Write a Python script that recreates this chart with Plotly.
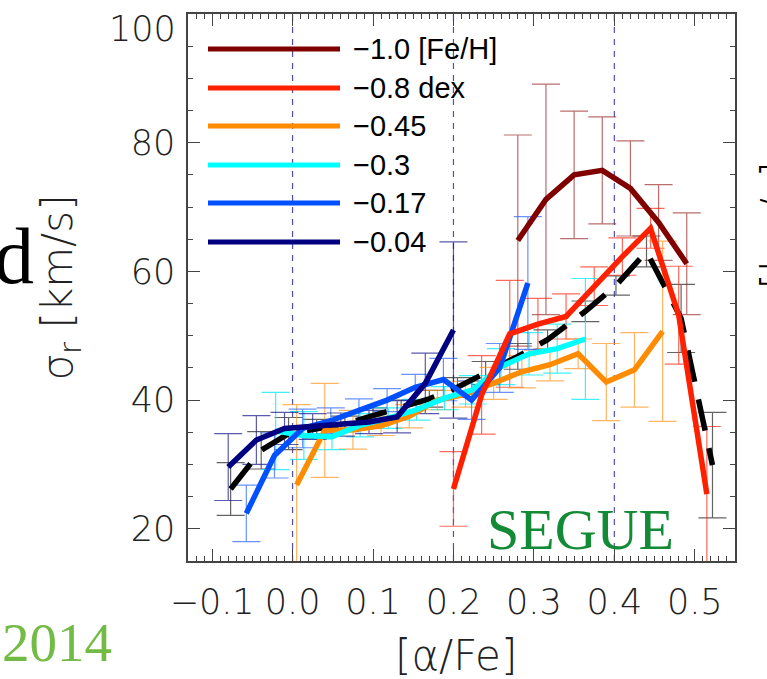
import plotly.graph_objects as go

# Radial velocity dispersion of disc stars vs [alpha/Fe], one curve per [Fe/H] bin
feh_labels = ["−1.0 [Fe/H]", "−0.8 dex", "−0.45", "−0.3", "−0.17", "−0.04"]
feh_colors = ["#800000", "#ff2000", "#ff8c00", "#00ffff", "#0050ff", "#000080"]
feh_err_colors = ["rgba(150,30,30,0.65)", "rgba(255,40,20,0.7)", "rgba(255,150,30,0.7)",
                  "rgba(0,235,245,0.75)", "rgba(40,100,255,0.7)", "rgba(20,20,140,0.7)"]

# [Fe/H] = -1.0
afe_m100 = [0.28, 0.315, 0.35, 0.385, 0.42, 0.455, 0.49]
sig_m100 = [64.8, 71.2, 75.0, 75.7, 72.9, 67.6, 61.2]
err_m100 = [16.4, 17.9, 9.9, 8.3, 7.4, 5.9, 7.9]

# [Fe/H] = -0.8
afe_m080 = [0.2, 0.235, 0.27, 0.305, 0.34, 0.375, 0.41, 0.445, 0.48, 0.515]
sig_m080 = [26.2, 40.8, 50.3, 51.8, 53.0, 57.7, 62.3, 66.7, 53.2, 25.4]
err_m080 = [5.8, 6.1, 8.3, 4.0, 3.5, 3.0, 2.9, 3.1, 7.6, 10.5]

# [Fe/H] = -0.45
afe_m045 = [0.005, 0.04, 0.075, 0.11, 0.145, 0.18, 0.215, 0.25, 0.285, 0.32, 0.355, 0.39, 0.425, 0.46]
sig_m045 = [26.8, 35.3, 35.4, 36.0, 37.5, 40.0, 40.9, 42.6, 44.4, 45.5, 47.2, 42.8, 44.7, 50.7]
err_m045 = [12.5, 7.3, 3.0, 1.5, 1.8, 1.5, 2.0, 2.5, 2.5, 2.5, 2.3, 6.0, 5.8, 14.0]

# [Fe/H] = -0.3
afe_m030 = [-0.021, 0.014, 0.049, 0.084, 0.119, 0.154, 0.189, 0.224, 0.259, 0.294, 0.329, 0.364]
sig_m030 = [35.2, 34.5, 34.3, 36.1, 37.2, 38.5, 40.3, 41.6, 45.2, 47.2, 48.0, 49.5]
err_m030 = [6.0, 3.7, 2.0, 1.8, 1.6, 1.6, 1.8, 2.2, 2.8, 3.3, 3.8, 9.4]

# [Fe/H] = -0.17
afe_m017 = [-0.0575, -0.0225, 0.0125, 0.0475, 0.0825, 0.1175, 0.1525, 0.1875, 0.2225, 0.2575, 0.2925]
sig_m017 = [22.4, 31.4, 35.6, 36.8, 38.4, 40.0, 42.0, 43.2, 40.0, 45.0, 58.2]
err_m017 = [4.4, 3.5, 3.0, 2.0, 1.8, 1.8, 2.0, 3.3, 3.0, 3.8, 10.3]

# [Fe/H] = -0.04
afe_m004 = [-0.08, -0.045, -0.01, 0.025, 0.06, 0.095, 0.13, 0.165, 0.2]
sig_m004 = [29.6, 33.8, 35.6, 35.9, 36.2, 36.6, 37.4, 42.6, 50.9]
err_m004 = [5.2, 3.8, 2.5, 2.0, 1.8, 1.8, 2.5, 4.7, 13.7]

# All metallicities together (dashed)
afe_all = [-0.077, -0.039, -0.005, 0.03, 0.065, 0.10, 0.135, 0.17, 0.205, 0.24, 0.28,
           0.317, 0.364, 0.402, 0.44, 0.483, 0.522]
sig_all = [26.2, 32.2, 34.8, 35.5, 36.3, 37.6, 38.8, 40.2, 42.0, 44.2, 46.8,
           49.4, 53.8, 57.8, 63.1, 52.7, 29.9]
err_all = [4.1, 2.9, 2.5, 1.5, 1.2, 1.2, 1.2, 1.3, 1.5, 1.8, 2.0,
           1.5, 1.6, 1.5, 2.4, 5.3, 8.2]

series_x = [afe_m100, afe_m080, afe_m045, afe_m030, afe_m017, afe_m004]
series_y = [sig_m100, sig_m080, sig_m045, sig_m030, sig_m017, sig_m004]
series_e = [err_m100, err_m080, err_m045, err_m030, err_m017, err_m004]

ref_lines = [0.0, 0.2, 0.4]
x_ticks = [-0.1, 0.0, 0.1, 0.2, 0.3, 0.4, 0.5]
x_ticktext = ["−0.1", "0.0", "0.1", "0.2", "0.3", "0.4", "0.5"]
y_ticks = [20, 40, 60, 80, 100]
y_ticktext = ["20", "40", "60", "80", ""]
y_top_label = "100"  # drawn just under the top frame edge
x_title = "[α/Fe]"
y_title = "σ<sub>r</sub> [km/s]"

W, H = 767, 679
ML, MR, MT, MB = 188, 32, 14, 118
PW, PH = W - ML - MR, H - MT - MB


def px_x(p):
    return (p - ML) / PW


def px_y(p):
    return 1 - (p - MT) / PH


fig = go.Figure()

# error bars first so that every curve sits on top of them
fig.add_trace(go.Scatter(x=afe_all, y=sig_all, mode="markers",
                         marker=dict(size=1, color="rgba(0,0,0,0)"),
                         error_y=dict(type="data", array=err_all, color="rgba(60,60,60,0.8)",
                                      thickness=1.2, width=14),
                         hoverinfo="skip", showlegend=False))
for xs, ys, es, ec in zip(series_x, series_y, series_e, feh_err_colors):
    fig.add_trace(go.Scatter(x=xs, y=ys, mode="markers",
                             marker=dict(size=1, color="rgba(0,0,0,0)"),
                             error_y=dict(type="data", array=es, color=ec,
                                          thickness=1.2, width=14),
                             hoverinfo="skip", showlegend=False))

fig.add_trace(go.Scatter(x=afe_all, y=sig_all, mode="lines",
                         line=dict(color="black", width=5.5, dash="32px,18px"),
                         showlegend=False))
draw_order = [2, 3, 4, 5, 1, 0]
for i in draw_order:
    fig.add_trace(go.Scatter(x=series_x[i], y=series_y[i], mode="lines",
                             line=dict(color=feh_colors[i], width=5.5),
                             name=feh_labels[i], showlegend=False))

for xv in ref_lines:
    fig.add_shape(type="line", xref="x", yref="paper", x0=xv, x1=xv, y0=0, y1=1,
                  line=dict(color="#5050b4", width=1.2, dash="6px,6px"), layer="below")

# hand-drawn legend with long line samples
leg_y = [49, 88, 126, 165, 203, 242]
for lab, col, yy in zip(feh_labels, feh_colors, leg_y):
    fig.add_shape(type="line", xref="paper", yref="paper",
                  x0=px_x(208), x1=px_x(340), y0=px_y(yy), y1=px_y(yy),
                  line=dict(color=col, width=5))
    fig.add_annotation(xref="paper", yref="paper", x=px_x(351), y=px_y(yy),
                       text=lab, showarrow=False, xanchor="left", yanchor="middle",
                       font=dict(family="Liberation Sans", size=29, color="black"))

fig.add_annotation(xref="paper", yref="paper", x=px_x(580), y=px_y(529), text="SEGUE",
                   showarrow=False, xanchor="center", yanchor="middle",
                   font=dict(family="Liberation Serif", size=58, color="#138a36"))

tick_font = dict(family="DejaVu Sans", size=35, color="#222", weight=200)
title_font = dict(family="DejaVu Sans", size=42, color="#222", weight=200)

fig.add_annotation(xref="paper", yref="paper", x=px_x(178), y=px_y(29), text=y_top_label,
                   showarrow=False, xanchor="right", yanchor="middle", font=tick_font)

# x-axis title sits low, its brackets reaching the bottom edge
fig.add_annotation(xref="paper", yref="paper", x=px_x(456), y=px_y(655), text=x_title,
                   showarrow=False, xanchor="center", yanchor="middle", font=title_font)

# fragments of neighbouring panels
fig.add_annotation(xref="paper", yref="paper", x=px_x(36), y=px_y(256), text="d",
                   showarrow=False, xanchor="right", yanchor="middle",
                   font=dict(family="Liberation Serif", size=80, color="black"))
fig.add_annotation(xref="paper", yref="paper", x=px_x(0), y=px_y(642), text="2014",
                   showarrow=False, xanchor="left", yanchor="middle",
                   font=dict(family="Liberation Serif", size=55, color="#72bb45"))
fig.add_annotation(xref="paper", yref="paper", x=px_x(779), y=px_y(252),
                   text="σ<sub>z</sub> [km/s]", textangle=-90,
                   showarrow=False, xanchor="center", yanchor="middle",
                   font=dict(family="DejaVu Sans", size=40, color="black", weight=200))

axis_common = dict(showline=True, linecolor="#444", linewidth=1.5, mirror="ticks",
                   ticks="inside", ticklen=12, tickwidth=1.2, tickcolor="#444",
                   showgrid=False, zeroline=False, tickfont=tick_font)

fig.update_xaxes(range=[-0.13, 0.55], tickvals=x_ticks, ticktext=x_ticktext,
                 minor=dict(dtick=0.01, tick0=0, ticks="inside", ticklen=5,
                            tickcolor="#444", showgrid=False),
                 ticklabelstandoff=9,
                 **axis_common)
fig.update_yaxes(range=[15, 100], tickvals=y_ticks, ticktext=y_ticktext,
                 minor=dict(dtick=5, tick0=0, ticks="inside", ticklen=5,
                            tickcolor="#444", showgrid=False),
                 ticklabelstandoff=4,
                 title=dict(text=y_title, font=title_font, standoff=45),
                 **axis_common)

fig.update_layout(width=W, height=H, margin=dict(l=ML, r=MR, t=MT, b=MB, autoexpand=False),
                  paper_bgcolor="white", plot_bgcolor="white")

fig.write_html("out.html")
